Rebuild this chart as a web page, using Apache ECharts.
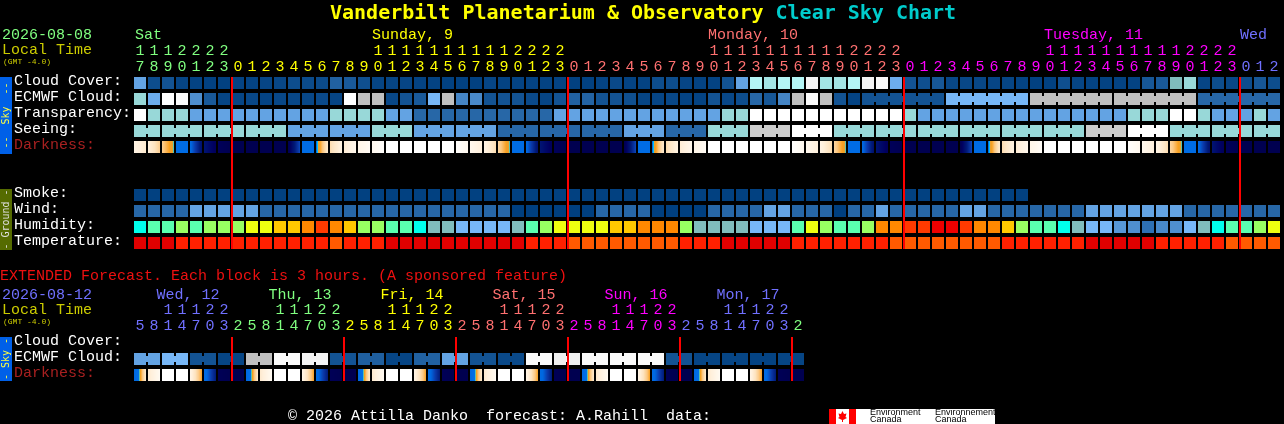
<!DOCTYPE html>
<html>
<head>
<meta charset="utf-8">
<style>html,body{margin:0;padding:0;background:#000}#c{width:1284px;height:424px}</style>
<script src="https://cdn.jsdelivr.net/npm/echarts@6/dist/echarts.min.js"></script>
</head>
<body>
<div id="c"></div>
<script>
// ---------- text ----------
const chartTitle = "Vanderbilt Planetarium & Observatory";
const chartSubtitle = "Clear Sky Chart";
const skyRows = ["Cloud Cover:", "ECMWF Cloud:", "Transparency:", "Seeing:", "Darkness:"];
const groundRows = ["Smoke:", "Wind:", "Humidity:", "Temperature:"];
const extRows = ["Cloud Cover:", "ECMWF Cloud:", "Darkness:"];
const dayLabels = ["Sat", "Sunday, 9", "Monday, 10", "Tuesday, 11", "Wed"];
const dayLabelCols = [0, 17, 41, 65, 79];
const extDayLabels = ["Wed, 12", "Thu, 13", "Fri, 14", "Sat, 15", "Sun, 16", "Mon, 17"];
const extDayLabelCols = [1.6, 9.6, 17.6, 25.6, 33.6, 41.6];

// ---------- hourly time axis ----------
const hours = [17,18,19,20,21,22,23,
 0,1,2,3,4,5,6,7,8,9,10,11,12,13,14,15,16,17,18,19,20,21,22,23,
 0,1,2,3,4,5,6,7,8,9,10,11,12,13,14,15,16,17,18,19,20,21,22,23,
 0,1,2,3,4,5,6,7,8,9,10,11,12,13,14,15,16,17,18,19,20,21,22,23,
 0,1,2];
const hourDays = [0,0,0,0,0,0,0,
 1,1,1,1,1,1,1,1,1,1,1,1,1,1,1,1,1,1,1,1,1,1,1,1,
 2,2,2,2,2,2,2,2,2,2,2,2,2,2,2,2,2,2,2,2,2,2,2,2,
 3,3,3,3,3,3,3,3,3,3,3,3,3,3,3,3,3,3,3,3,3,3,3,3,
 4,4,4];
const midnightCols = [7, 31, 55, 79];

const cloudCover = [5,.7,1,.3,.2,.1,.1,.2,.2,.3,.4,.7,.6,.6,1.7,1.3,.8,.3,.3,.3,.2,.2,.1,.1,.1,.3,.2,.2,.2,.2,.2,
 .1,.1,.2,.5,.2,.2,.7,.7,.3,.2,.2,1,5,9,8.4,9,9,11.5,8.4,8.4,9,11.5,11.8,5.5,1,.8,1.2,.4,.4,.4,.3,.3,.2,.1,.1,.8,.3,.2,.2,.2,.2,1.2,1.3,7,8,.3,.7,.4,.7,1.2,.7];
const ecmwfCloud = [8,5.5,12,11.8,4,1.3,.3,.3,.4,.2,.4,.4,.4,.5,.3,12,10,10,.4,1,1.3,6,10,3.5,3.7,1,1,1,.5,.3,1,
 1.7,1.8,1,1,.8,.3,.3,.4,.2,.2,1,.4,.7,2,1.2,3.5,10,11.8,10,1,.2,
 1,1,1,1,1,1,6,6,6,6,6,6,10,10,10,10,10,10,10,10,10,10,10,10,2,2,2,2,2,2];
const ecmwfSpans = [1,1,1,1,1,1,1,1,1,1,1,1,1,1,1,1,1,1,1,1,1,1,1,1,1,1,1,1,1,1,1,1,1,1,1,1,1,1,1,1,1,1,1,1,1,1,1,1,1,1,1,1,6,6,6,6,6];
const transparency = [12,8,8,8,5,5,5,5,5,5,5,5,5,5,8,8,8,8,5,5,2,2,2,2,2,2,2,2,2,2,5,
 5,5,5,5,5,5,5,5,5,5,5,8,8,12,12,12,12,12,12,12,12,12,12,12,8,5,5,5,5,5,5,5,5,5,5,5,5,5,5,5,8,8,8,12,12,8,5,5,5,8,5];
const seeing = [8,8,8,8,8,8,8,8,8,8,8,5,5,5,5,5,5,8,8,8,5,5,5,5,5,5,2,2,2,2,2,
 2,2,2,2,5,5,5,2,2,2,8,8,8,10.3,10.3,10.3,12,12,12,8,8,8,8,8,8,8,8,8,8,8,8,8,8,8,8,8,8,10.3,10.3,10.3,12,12,12,8,8,8,8,8,8,8,8];
const seeingSpans = [2,3,3,3,3,3,3,3,3,3,3,3,3,3,3,3,3,3,3,3,3,3,3,3,3,3,3,2];
const darkness = [[.1,.2],[.15,.33],[.33,.49],[.6,.6],[.68,.9],[.88,.97],[.97,1],[1,1],[1,1],[1,1],[1,1],[1,.75],[.62,.62],[.54,.2],[.28,.12],[.18,.06],[.08,.03],[.05,.01],
 [0,0],[0,0],[0,0],[0,0],[0,0],[.01,.05],[.05,.15],[.1,.28],[.3,.49],[.6,.6],[.68,.9],[.88,.97],[.97,1],[1,1],[1,1],[1,1],[1,1],[1,.75],[.62,.62],[.54,.2],[.28,.12],[.18,.06],[.08,.03],
 [0,0],[0,0],[0,0],[0,0],[0,0],[0,0],[.01,.05],[.05,.15],[.1,.28],[.3,.49],[.6,.6],[.68,.9],[.88,.97],[.97,1],[1,1],[1,1],[1,1],[1,1],[1,.75],[.62,.62],[.54,.2],[.28,.12],[.18,.06],[.08,.02],
 [0,0],[0,0],[0,0],[0,0],[0,0],[0,0],[.01,.05],[.05,.15],[.1,.28],[.3,.49],[.6,.6],[.68,.9],[.88,.97],[.97,1],[1,1],[1,1],[1,1]];
const smoke = [.1,.1,.1,.1,.1,.1,.1,.1,.1,.1,.1,.1,.1,.1,.1,.1,.1,.1,.1,.1,.1,.1,.1,.1,.1,.1,.1,.1,.1,.1,.1,.1,.1,.1,.1,.1,.1,.1,.1,.1,.1,.1,.1,.1,.1,.1,.1,.1,.1,.1,.1,.1,.1,.1,.1,.1,.1,.1,.1,.1,.1,.1,.1,.1];
const wind = [2,2,2,2,5,5,5,5,5,2,2,2,2,2,2,2,2,2,2,2,2,2,2,2,2,2,2,0,0,0,0,0,0,2,2,2,2,0,0,0,0,2,2,2,2,5,5,2,2,2,0,2,2,5,2,2,2,2,2,5,5,2,2,2,2,2,2,2,5,5,5,5,5,5,5,2,2,2,2,2,2,2];
const humidity = [4,5,5,6,5,6,6,6,7,7,8,8,9,10,9,8,6,6,5,5,4,3,3,2,2,2,2,3,5,6,7,7,7,7,8,8,9,9,9,6,3,3,3,3,2,2,2,5,7,6,5,5,6,9,9,10,10,11,11,10,9,9,8,6,5,5,4,3,2,2,1.2,1,0,.8,1,2,3,4,5,5,6,7];
const temperature = [0,0,0,1,1,1,1,1,1,1,1,1,1,1,2,1,1,1,0,0,0,0,0,0,0,0,0,0,1,1,1,2,2,2,2,2,2,2,2,1,1,1,0,0,0,0,0,1,1,1,1,1,1,1,2,2,2,2,2,2,2,2,1,1,1,1,1,1,0,0,0,0,0,1,1,1,1,1,2,2,2,2];

// ---------- extended forecast, one column = 3 hours ----------
const extHours = [5,8,11,14,17,20,23,
 2,5,8,11,14,17,20,23, 2,5,8,11,14,17,20,23, 2,5,8,11,14,17,20,23, 2,5,8,11,14,17,20,23, 2,5,8,11,14,17,20,23, 2];
const extHourDays = [4,4,4,4,4,4,4,
 0,0,0,0,0,0,0,0, 1,1,1,1,1,1,1,1, 2,2,2,2,2,2,2,2, 3,3,3,3,3,3,3,3, 4,4,4,4,4,4,4,4, 0];
const extMidnightCols = [7, 15, 23, 31, 39, 47];
const extEcmwf = [5,5,6,6,1,1,.3,.3,10,10,11.8,11.8,11.5,11.5,1,1,1.6,1.6,.3,.3,1.7,1.7,5,5,1,1,.5,.5,11.8,11.8,11.3,11.3,11.8,11.8,11.8,11.8,11.8,11.8,1,1,.3,.3,.3,.3,.2,.2,.3,.3];
const extEcmwfSpans = [2,2,2,2,2,2,2,2,2,2,2,2,2,2,2,2,2,2,2,2,2,2,2,2];
const extDarkness = [[.72,.2],[.2,.03],[0,0],[0,0],[.1,.43],[.65,.86],[.98,1],[1,1],
 [.72,.2],[.2,.03],[0,0],[0,0],[.1,.43],[.65,.86],[.98,1],[1,1],
 [.72,.2],[.2,.03],[0,0],[0,0],[.1,.43],[.65,.86],[.98,1],[1,1],
 [.72,.2],[.2,.03],[0,0],[0,0],[.1,.43],[.65,.86],[.98,1],[1,1],
 [.72,.2],[.2,.03],[0,0],[0,0],[.1,.43],[.65,.86],[.98,1],[1,1],
 [.72,.2],[.2,.03],[0,0],[0,0],[.1,.43],[.65,.86],[.98,1],[1,1]];

// ---------- colour ramps ----------
const skyRamp = ["#003f7f","#135393","#2767a7","#3b7bbb","#4f8fcf","#63a3e3","#77b7f7","#80bdbd","#98d8d8","#b4f6f6","#c0c0c0","#e8e8e8","#ffffff"];
const humidityRamp = ["#2e70b4","#4f8fcf","#77b7f7","#80bdbd","#00ffec","#5affaf","#98ff62","#eeff10","#ffc800","#ff8800","#ff3a00","#ee0000"];
const temperatureRamp = ["#e00000","#ff2000","#ff5a00"];
const darkStops = [0,.05,.15,.25,.35,.43,.47,.49,.52,.7,.78,.86,.95,1];
const darkColors = ["#ffffff","#fff8ee","#fff0dc","#fde3bf","#fcc882","#f9a020","#e8a030","#00d8ff","#0070e8","#0068e0","#0a38a8","#001a78","#000060","#000050"];
const dayColors = ["#80ff80","#ffff00","#ff7070","#ff00ff","#7070ff"];

// ---------- helpers ----------
function hex(c){return [1,3,5].map(i=>parseInt(c.substr(i,2),16));}
function mix(a,b,t){const A=hex(a),B=hex(b);return "rgb("+A.map((v,i)=>Math.round(v+(B[i]-v)*t)).join(",")+")";}
function rampColor(ramp,v){const i=Math.min(Math.floor(v),ramp.length-2);return mix(ramp[i],ramp[i+1],v-i);}
function darkColor(v){let i=0;while(i<darkStops.length-2&&v>darkStops[i+1])i++;return mix(darkColors[i],darkColors[i+1],(v-darkStops[i])/(darkStops[i+1]-darkStops[i]));}
function joinsFromSpans(spans){const j=[];spans.forEach(n=>{for(let k=0;k<n;k++)j.push(k<n-1?1:0);});return j;}

function blocks(name,gridIndex,row,values,ramp,spans){
  const joins=spans?joinsFromSpans(spans):[];
  return {type:"custom",name,xAxisIndex:gridIndex,yAxisIndex:gridIndex,silent:true,clip:false,
    data:values.map((v,i)=>[i,row,v,joins[i]||0]),
    renderItem(params,api){
      const c=api.coord([api.value(0),api.value(1)]),s=api.size([1,1]);
      const w=s[0]-2,h=s[1]-4,x=c[0]-w/2,y=c[1]-h/2,fill=rampColor(ramp,api.value(2));
      const kids=[{type:"rect",shape:{x,y,width:w,height:h},style:{fill}}];
      if(api.value(3))kids.push({type:"rect",shape:{x:x+w,y:y+3,width:2,height:h-6},style:{fill}});
      return {type:"group",children:kids};
    }};
}
function dark(name,gridIndex,row,pairs){
  return {type:"custom",name,xAxisIndex:gridIndex,yAxisIndex:gridIndex,silent:true,clip:false,
    data:pairs.map((p,i)=>[i,row,p[0],p[1]]),
    renderItem(params,api){
      const c=api.coord([api.value(0),api.value(1)]),s=api.size([1,1]);
      const w=s[0]-2,h=s[1]-4,a=api.value(2),b=api.value(3),stops=[];
      for(let k=0;k<=24;k++)stops.push({offset:k/24,color:darkColor(a+(b-a)*k/24)});
      return {type:"rect",shape:{x:c[0]-w/2,y:c[1]-h/2,width:w,height:h},
        style:{fill:{type:"linear",x:0,y:0,x2:1,y2:0,colorStops:stops}}};
    }};
}
function midnights(name,gridIndex,cols){
  return {type:"custom",name,xAxisIndex:gridIndex,yAxisIndex:gridIndex,silent:true,z:5,clip:false,
    data:cols.map(c=>[c,0,1]),
    renderItem(params,api){
      const t=api.coord([api.value(0),api.value(2)]),b=api.coord([api.value(0),api.value(1)]),s=api.size([1,0]);
      return {type:"rect",shape:{x:t[0]-s[0]/2,y:t[1],width:2,height:b[1]-t[1]},style:{fill:"#ff0000"}};
    }};
}
const MONO='"Liberation Mono",monospace';
function hourAxis(grid,list,days,shown,margin){
  return {type:"category",gridIndex:grid,position:"top",data:list.map(String),
    axisLine:{show:false},axisTick:{show:false},splitLine:{show:false},
    axisLabel:{show:shown,interval:0,margin:margin||0,fontFamily:MONO,fontSize:15,lineHeight:16,hideOverlap:false,
      color:(v,i)=>dayColors[days[i]],
      formatter:v=>(v.length>1?v[0]:" ")+"\n"+v[v.length-1]}};
}
function rowAxis(grid,rows){
  return {type:"category",gridIndex:grid,inverse:true,data:rows,
    axisLine:{show:false},axisTick:{show:false},splitLine:{show:false},
    axisLabel:{interval:0,align:"left",verticalAlign:"bottom",lineHeight:4,margin:119,fontFamily:MONO,fontSize:15,
      color:v=>v==="Darkness:"?"#a82020":"#ffffff"}};
}
function txt(x,y,text,fill,size){
  return {type:"text",x,y,silent:true,style:{text,fill,font:size+"px "+MONO,textVerticalAlign:"middle"}};
}
function bar(y,h,fill,label,color){
  return [{type:"rect",shape:{x:0,y,width:12,height:h},style:{fill},silent:true},
    {type:"text",x:6,y:y+h/2,rotation:Math.PI/2,silent:true,
     style:{text:label,fill:color,font:'10px "DejaVu Sans Mono",monospace',textAlign:"center",textVerticalAlign:"middle"}}];
}
const colX=c=>134+14*c;
const LOGO='9px "Liberation Sans",sans-serif';

const option={
  backgroundColor:"#000",animation:false,
  title:{left:330,top:2,padding:0,text:"{a|"+chartTitle+"}{b| "+chartSubtitle+"}",
    textStyle:{rich:{a:{color:"#ffff00",fontFamily:'"DejaVu Sans Mono",monospace',fontWeight:"bold",fontSize:20,lineHeight:24},
                     b:{color:"#00cccc",fontFamily:'"DejaVu Sans Mono",monospace',fontWeight:"bold",fontSize:20,lineHeight:24}}}},
  grid:[
    {left:133,top:75,width:1148,height:80},
    {left:133,top:187,width:1148,height:64},
    {left:133,top:335,width:672,height:48},
    {left:133,top:77,width:1148,height:172},
    {left:133,top:337,width:672,height:44}
  ],
  xAxis:[hourAxis(0,hours,hourDays,true,0),hourAxis(1,hours,hourDays,false),hourAxis(2,extHours,extHourDays,true,1),
         hourAxis(3,hours,hourDays,false),hourAxis(4,extHours,extHourDays,false)],
  yAxis:[rowAxis(0,skyRows),rowAxis(1,groundRows),rowAxis(2,extRows),
    {type:"value",gridIndex:3,min:0,max:1,show:false},{type:"value",gridIndex:4,min:0,max:1,show:false}],
  series:[
    blocks("Cloud Cover",0,0,cloudCover,skyRamp),
    blocks("ECMWF Cloud",0,1,ecmwfCloud,skyRamp,ecmwfSpans),
    blocks("Transparency",0,2,transparency,skyRamp),
    blocks("Seeing",0,3,seeing,skyRamp,seeingSpans),
    dark("Darkness",0,4,darkness),
    blocks("Smoke",1,0,smoke,skyRamp),
    blocks("Wind",1,1,wind,skyRamp),
    blocks("Humidity",1,2,humidity,humidityRamp),
    blocks("Temperature",1,3,temperature,temperatureRamp),
    blocks("ECMWF Cloud (extended)",2,1,extEcmwf,skyRamp,extEcmwfSpans),
    dark("Darkness (extended)",2,2,extDarkness),
    midnights("Midnight",3,midnightCols),
    midnights("Midnight (extended)",4,extMidnightCols)
  ],
  graphic:{elements:[
    txt(2,35,"2026-08-08","#80ff80",15),
    txt(2,50,"Local Time","#cccc00",15),
    txt(3,62,"(GMT -4.0)","#cccc00",8),
    ...dayLabels.map((t,i)=>txt(colX(dayLabelCols[i])+(i===0?1:0),35,t,dayColors[i],15)),
    ...bar(77,77,"#0060e8","--  Sky  --","#ffff40"),
    ...bar(189,61,"#556b00","- Ground -","#e0e0e0"),
    txt(0,276,"EXTENDED Forecast. Each block is 3 hours. (A sponsored feature)","#ee1010",15),
    txt(2,295,"2026-08-12","#7070ff",15),
    txt(2,310,"Local Time","#cccc00",15),
    txt(3,322,"(GMT -4.0)","#cccc00",8),
    ...extDayLabels.map((t,i)=>txt(colX(extDayLabelCols[i]),295,t,dayColors[(i+4)%5],15)),
    ...bar(337,44,"#0060e8","- Sky -","#ffff40"),
    txt(288,416,"\u00a9 2026 Attilla Danko  forecast: A.Rahill  data:","#ffffff",15),
    {type:"rect",shape:{x:829,y:409,width:27,height:15},style:{fill:"#ffffff"},silent:true},
    {type:"rect",shape:{x:829,y:409,width:7,height:15},style:{fill:"#ff0000"},silent:true},
    {type:"rect",shape:{x:849,y:409,width:7,height:15},style:{fill:"#ff0000"},silent:true},
    {type:"polygon",shape:{points:[[842.5,411],[844,414],[846.5,413.5],[845.5,417],[847,418],[843,420],[843,422],[842,422],[842,420],[838,418],[839.5,417],[838.5,413.5],[841,414]]},style:{fill:"#ff0000"},silent:true},
    {type:"rect",shape:{x:856,y:409,width:139,height:15},style:{fill:"#ffffff"},silent:true},
    {type:"text",x:870,y:413,silent:true,style:{text:"Environment",fill:"#000",font:LOGO,textVerticalAlign:"middle"}},
    {type:"text",x:870,y:420,silent:true,style:{text:"Canada",fill:"#000",font:LOGO,textVerticalAlign:"middle"}},
    {type:"text",x:935,y:413,silent:true,style:{text:"Environnement",fill:"#000",font:LOGO,textVerticalAlign:"middle"}},
    {type:"text",x:935,y:420,silent:true,style:{text:"Canada",fill:"#000",font:LOGO,textVerticalAlign:"middle"}}
  ]}
};
const chart=echarts.init(document.getElementById("c"),null,{renderer:"canvas"});
chart.setOption(option);
</script>
</body>
</html>
